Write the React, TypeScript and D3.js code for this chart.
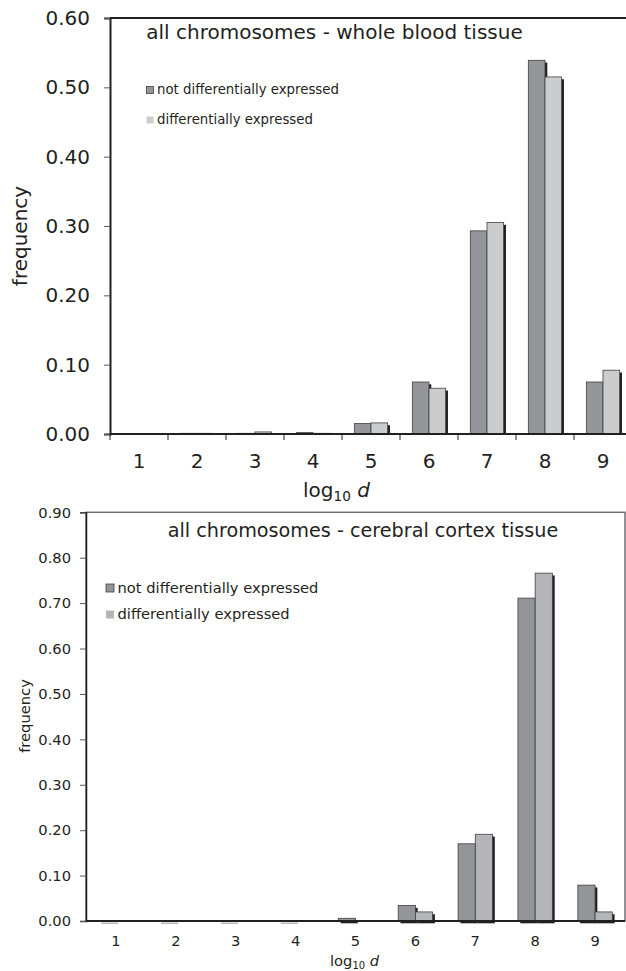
import React, { useEffect, useRef } from 'react';
import * as d3 from 'd3';

const categories = ['1', '2', '3', '4', '5', '6', '7', '8', '9'];
const seriesNames = ['not differentially expressed', 'differentially expressed'];
const bloodNotDE = [0, 0.001, 0.001, 0.002, 0.015, 0.075, 0.293, 0.539, 0.075];
const bloodDE = [0, 0.001, 0.003, 0.001, 0.016, 0.066, 0.305, 0.515, 0.092];
const cortexNotDE = [0.001, 0.001, 0.001, 0.001, 0.006, 0.034, 0.17, 0.711, 0.079];
const cortexDE = [0, 0, 0, 0, 0, 0.02, 0.191, 0.766, 0.02];
const bloodTicks = [0, 0.1, 0.2, 0.3, 0.4, 0.5, 0.6];
const cortexTicks = [0, 0.1, 0.2, 0.3, 0.4, 0.5, 0.6, 0.7, 0.8, 0.9];

const FONT = '"DejaVu Sans", Verdana, sans-serif';
const INK = '#231f20';
const DARK = '#939598';

type Panel = {
  title: string;
  a: number[];
  b: number[];
  ticks: number[];
  lightColor: string;
  left: number; right: number; top: number; bottom: number;
  fs: number; tickFs: number; legFs: number;
  titleX: number; titleY: number;
  legX: number; legY: number[]; legSq: number;
  xlabX: number; xlabY: number; xTickY: number;
  ylabX: number; ylabY: number;
  shadowBelow: number;
  boxed: boolean;
};

const panels: Panel[] = [
  {
    title: 'all chromosomes - whole blood tissue',
    a: bloodNotDE, b: bloodDE, ticks: bloodTicks, lightColor: '#cbcccd',
    left: 110, right: 632, top: 18, bottom: 434,
    fs: 20, tickFs: 20, legFs: 13.3,
    titleX: 334.5, titleY: 39,
    legX: 146.5, legY: [86.5, 116.5], legSq: 7,
    xlabX: 303, xlabY: 497, xTickY: 468,
    ylabX: 27, ylabY: 236,
    shadowBelow: 0,
    boxed: false,
  },
  {
    title: 'all chromosomes - cerebral cortex tissue',
    a: cortexNotDE, b: cortexDE, ticks: cortexTicks, lightColor: '#b4b5b8',
    left: 86, right: 625, top: 512.3, bottom: 921,
    fs: 19.2, tickFs: 14.7, legFs: 14.7,
    titleX: 363, titleY: 537,
    legX: 106, legY: [584, 610.5], legSq: 8,
    xlabX: 330, xlabY: 966, xTickY: 946,
    ylabX: 30, ylabY: 716,
    shadowBelow: 2.3,
    boxed: true,
  },
];

function drawPanel(svg: d3.Selection<SVGSVGElement, unknown, null, undefined>, p: Panel) {
  const g = svg.append('g');
  const x = d3.scaleBand<string>().domain(categories).range([p.left, p.right]).padding(0);
  const x1 = d3.scaleBand<number>().domain([0, 1]).range([0, x.bandwidth()]).paddingInner(0).paddingOuter(0.74);
  const y = d3.scaleLinear().domain([0, d3.max(p.ticks) as number]).range([p.bottom, p.top]);

  // frame
  if (p.boxed) {
    g.append('rect')
      .attr('x', p.left).attr('y', p.top)
      .attr('width', p.right - p.left).attr('height', p.bottom - p.top)
      .attr('fill', 'none').attr('stroke', '#6d6e71').attr('stroke-width', 1.5);
  } else {
    g.append('line')
      .attr('x1', p.left).attr('x2', 626).attr('y1', p.top).attr('y2', p.top)
      .attr('stroke', INK).attr('stroke-width', 2);
  }

  // bars with drop shadow
  const series = [p.a, p.b];
  const colors = [DARK, p.lightColor];
  categories.forEach((c, i) => {
    series.forEach((vals, s) => {
      const v = vals[i];
      if (v <= 0) return;
      const bx = (x(c) as number) + (x1(s) as number);
      const by = y(v);
      const h = y(0) - by;
      g.append('rect')
        .attr('x', bx + 2.3).attr('y', by + 2.3)
        .attr('width', x1.bandwidth()).attr('height', Math.max(0, h - 2.3 + p.shadowBelow))
        .attr('fill', INK);
      g.append('rect')
        .attr('x', bx).attr('y', by)
        .attr('width', x1.bandwidth()).attr('height', h)
        .attr('fill', colors[s]).attr('stroke', '#404041').attr('stroke-width', 0.8);
    });
  });

  // y axis
  const yAxis = g.append('g')
    .attr('transform', `translate(${p.left},0)`)
    .call(d3.axisLeft(y).tickValues(p.ticks).tickFormat(d3.format('.2f')).tickSize(6).tickPadding(p.boxed ? 9 : 14));
  yAxis.select('.domain').attr('stroke', INK).attr('stroke-width', p.boxed ? 1.5 : 2);
  yAxis.selectAll('.tick line').attr('stroke', '#58595b');
  yAxis.selectAll('.tick text')
    .attr('font-family', FONT).attr('font-size', p.tickFs).attr('fill', INK);

  // x axis
  const xAxis = g.append('g')
    .attr('transform', `translate(0,${p.bottom})`)
    .call(d3.axisBottom(x).tickSize(0).tickPadding(0));
  xAxis.select('.domain').attr('stroke', INK).attr('stroke-width', 2).attr('d', `M${p.left},0H${Math.min(p.right, 626)}`);
  xAxis.selectAll('.tick text')
    .attr('font-family', FONT).attr('font-size', p.tickFs).attr('fill', INK)
    .attr('dy', null).attr('y', p.xTickY - p.bottom);
  if (!p.boxed) {
    g.append('g').selectAll('line')
      .data(categories)
      .join('line')
      .attr('x1', (d) => x(d) as number).attr('x2', (d) => x(d) as number)
      .attr('y1', p.bottom).attr('y2', p.bottom + 6)
      .attr('stroke', INK).attr('stroke-width', 1);
  }

  // title
  g.append('text')
    .attr('x', p.titleX).attr('y', p.titleY)
    .attr('text-anchor', 'middle')
    .attr('font-family', FONT).attr('font-size', p.fs).attr('fill', INK)
    .text(p.title);

  // legend
  seriesNames.forEach((name, s) => {
    g.append('rect')
      .attr('x', p.legX).attr('y', p.legY[s])
      .attr('width', p.legSq).attr('height', p.legSq)
      .attr('fill', colors[s])
      .attr('stroke', s === 0 ? '#404041' : 'none').attr('stroke-width', 0.8);
    g.append('text')
      .attr('x', p.legX + p.legSq + 3.5).attr('y', p.legY[s] + p.legSq + 0.5)
      .attr('font-family', FONT).attr('font-size', p.legFs).attr('fill', INK)
      .text(name);
  });

  // axis titles
  g.append('text')
    .attr('transform', `translate(${p.ylabX},${p.ylabY}) rotate(-90)`)
    .attr('text-anchor', 'middle')
    .attr('font-family', FONT).attr('font-size', p.boxed ? p.tickFs : p.fs).attr('fill', INK)
    .text('frequency');

  const xl = g.append('text')
    .attr('x', p.xlabX).attr('y', p.xlabY)
    .attr('font-family', FONT).attr('font-size', p.boxed ? p.tickFs : p.fs).attr('fill', INK);
  xl.append('tspan').text('log');
  xl.append('tspan').attr('font-size', '0.68em').attr('dy', '0.3em').text('10');
  xl.append('tspan').attr('dy', '-0.2em').text(' ');
  xl.append('tspan').attr('font-style', 'italic').text('d');
}

const App = () => {
  const ref = useRef<SVGSVGElement>(null);
  useEffect(() => {
    const svg = d3.select(ref.current as SVGSVGElement);
    svg.selectAll('*').remove();
    svg.append('rect').attr('width', 626).attr('height', 971).attr('fill', '#fff');
    panels.forEach((p) => drawPanel(svg, p));
  }, []);
  return (
    <svg ref={ref} width={626} height={971}
      style={{ position: 'absolute', left: 0, top: 0, display: 'block' }} />
  );
};

export default App;
